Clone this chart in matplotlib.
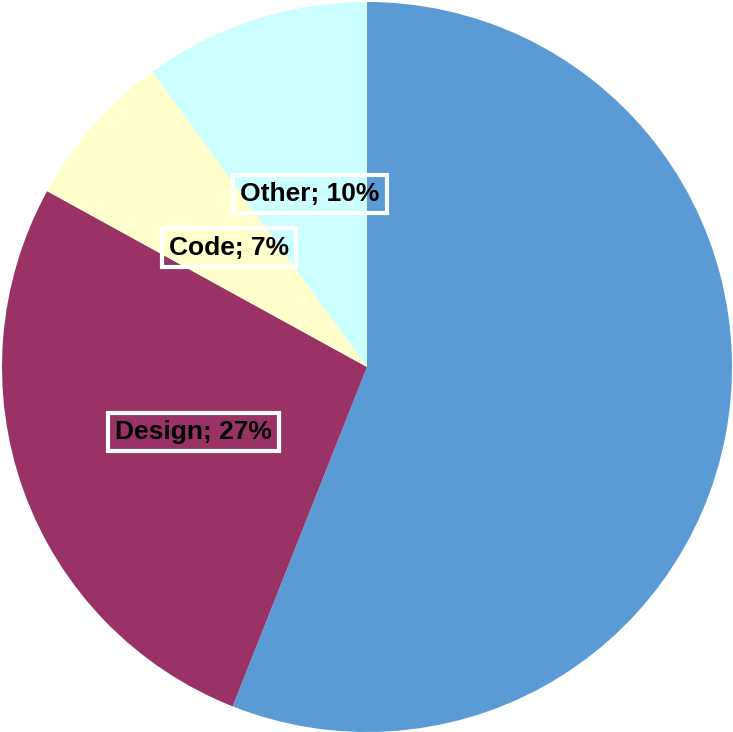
import matplotlib
matplotlib.use("Agg")
import matplotlib.pyplot as plt
import numpy as np

categories = ["Development", "Design", "Code", "Other"]
values = [56, 27, 7, 10]
colors = ["#5B9BD5", "#993366", "#FFFFCC", "#CCFFFF"]
show_label = [False, True, True, True]

fig = plt.figure(figsize=(7.33, 7.32), dpi=100)
ax = fig.add_axes([0, 0, 1, 1])
wedges, _ = ax.pie(values, colors=colors, startangle=90, counterclock=False,
                   wedgeprops=dict(linewidth=0))
total = sum(values)
cum = 0
for name, v, show in zip(categories, values, show_label):
    mid = 90 - (cum + v / 2) / total * 360
    cum += v
    if not show:
        continue
    r = 0.505
    x = r * np.cos(np.radians(mid))
    y = r * np.sin(np.radians(mid))
    ax.text(x, y, f"{name}; {v}%", ha="center", va="center_baseline",
            fontsize=19, fontweight="bold", family="Liberation Sans", color="black",
            bbox=dict(boxstyle="square,pad=0.27", facecolor="none", edgecolor="white", linewidth=3))
R = 365
ax.set_xlim(-1 - 2 / R, 1 + 1 / R)
ax.set_ylim(-1, 1 + 2 / R)
ax.set_aspect("auto")
ax.axis("off")
fig.savefig("out.png", dpi=100)
